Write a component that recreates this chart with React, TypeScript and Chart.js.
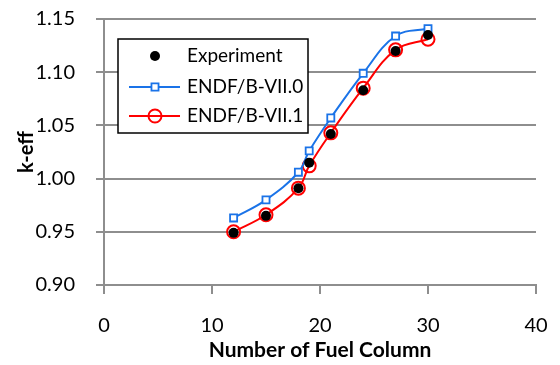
import React, { useEffect, useRef } from "react";
import { Chart, registerables } from "chart.js";

Chart.register(...registerables);

const fuelColumns = [12, 15, 18, 19, 21, 24, 27, 30];
const experiment = [0.949, 0.965, 0.991, 1.015, 1.042, 1.083, 1.12, 1.135];
const endf70 = [0.963, 0.98, 1.006, 1.026, 1.057, 1.099, 1.134, 1.141];
const endf71 = [0.95, 0.966, 0.991, 1.012, 1.043, 1.085, 1.121, 1.131];
const seriesLabels = ["Experiment", "ENDF/B-VII.0", "ENDF/B-VII.1"];
const xTitle = "Number of Fuel Column";
const yTitle = "k-eff";

const FONT = "Lato, 'DejaVu Sans', sans-serif";
const GRID = "#8e8e8e";

const toPoints = (ys: number[]) => fuelColumns.map((x, i) => ({ x, y: ys[i] }));

const boxLegend = {
  id: "boxLegend",
  afterDatasetsDraw(chart: any) {
    const ctx = chart.ctx as CanvasRenderingContext2D;
    const ca = chart.chartArea;
    const left = ca.left + 14;
    const top = ca.top + 20;
    const w = 190;
    const h = 94;
    ctx.save();
    ctx.fillStyle = "#ffffff";
    ctx.fillRect(left, top, w, h);
    ctx.lineWidth = 1.5;
    ctx.strokeStyle = "#000000";
    ctx.strokeRect(left, top, w, h);
    const rows = [top + 17, top + 48, top + 77];
    chart.data.datasets.forEach((ds: any, i: number) => {
      const cy = rows[i];
      const cx = left + 37;
      if (ds.showLine !== false) {
        ctx.beginPath();
        ctx.strokeStyle = ds.borderColor;
        ctx.lineWidth = ds.borderWidth;
        ctx.moveTo(left + 11, cy);
        ctx.lineTo(left + 62, cy);
        ctx.stroke();
      }
      ctx.beginPath();
      ctx.lineWidth = ds.pointBorderWidth;
      ctx.strokeStyle = ds.pointBorderColor;
      ctx.fillStyle = ds.pointBackgroundColor;
      if (ds.pointStyle === "rect") {
        const s = Math.SQRT1_2 * ds.pointRadius;
        ctx.rect(cx - s, cy - s, 2 * s, 2 * s);
      } else {
        ctx.arc(cx, cy, ds.pointRadius, 0, Math.PI * 2);
      }
      ctx.fill();
      if (ds.pointBorderWidth > 0) ctx.stroke();
      ctx.fillStyle = "#000";
      ctx.font = `19px ${FONT}`;
      ctx.textBaseline = "middle";
      ctx.textAlign = "left";
      ctx.fillText(ds.label, left + 69, cy);
    });
    ctx.restore();
  },
};

export default function App() {
  const ref = useRef<HTMLCanvasElement | null>(null);
  useEffect(() => {
    document.body.style.margin = "0";
    if (!ref.current) return;
    const chart = new Chart(ref.current, {
      type: "scatter",
      data: {
        datasets: [
          {
            label: seriesLabels[0],
            data: toPoints(experiment),
            showLine: false,
            pointStyle: "circle",
            pointRadius: 5,
            pointBorderWidth: 0,
            pointBorderColor: "#000",
            pointBackgroundColor: "#000",
            borderColor: "#000",
            backgroundColor: "#000",
          },
          {
            label: seriesLabels[1],
            data: toPoints(endf70),
            showLine: true,
            tension: 0.4,
            borderColor: "#1a73e8",
            borderWidth: 2,
            pointStyle: "rect",
            pointRadius: 5,
            pointBorderWidth: 1.8,
            pointBorderColor: "#1a73e8",
            pointBackgroundColor: "#ffffff",
          },
          {
            label: seriesLabels[2],
            data: toPoints(endf71),
            showLine: true,
            tension: 0.4,
            borderColor: "#ff0000",
            borderWidth: 2,
            pointStyle: "circle",
            pointRadius: 6.5,
            pointBorderWidth: 2,
            pointBorderColor: "#ff0000",
            pointBackgroundColor: "rgba(255,255,255,0)",
          },
        ],
      },
      options: {
        responsive: false,
        animation: false,
        layout: { padding: { top: 19, right: 24, left: 0, bottom: 0 } },
        plugins: { legend: { display: false }, tooltip: { enabled: false } },
        scales: {
          x: {
            type: "linear",
            min: 0,
            max: 40,
            ticks: {
              stepSize: 10,
              padding: 20,
              color: "#000",
              font: { family: FONT, size: 20 },
            },
            grid: {
              drawOnChartArea: false,
              drawTicks: true,
              tickLength: 9,
              color: GRID,
              lineWidth: 2,
            },
            border: { color: GRID, width: 2 },
            title: {
              display: true,
              text: xTitle,
              color: "#000",
              font: { family: FONT, size: 21, weight: "bold" },
              padding: { top: 0, bottom: 2 },
            },
            afterFit: (s: any) => {
              s.height = 80;
              s.paddingLeft = 0;
              s.paddingRight = 0;
              s.paddingTop = 0;
              s.paddingBottom = 0;
            },
          },
          y: {
            type: "linear",
            min: 0.9,
            max: 1.15,
            ticks: {
              stepSize: 0.05,
              padding: 21,
              color: "#000",
              font: { family: FONT, size: 20 },
              callback: (v: any) => Number(v).toFixed(2),
            },
            grid: {
              drawTicks: true,
              tickLength: 8,
              color: GRID,
              lineWidth: 2,
            },
            border: { color: GRID, width: 2 },
            title: {
              display: true,
              text: yTitle,
              color: "#000",
              font: { family: FONT, size: 20, weight: "bold" },
              padding: { top: 15, bottom: 0 },
            },
            afterFit: (s: any) => {
              s.width = 104;
              s.paddingLeft = 0;
              s.paddingRight = 0;
              s.paddingTop = 0;
              s.paddingBottom = 0;
            },
          },
        },
      },
      plugins: [boxLegend],
    } as any);
    return () => chart.destroy();
  }, []);
  return (
    <div style={{ position: "fixed", left: 0, top: 0, width: 560, height: 365 }}>
      <canvas ref={ref} width={560} height={365} />
    </div>
  );
}
